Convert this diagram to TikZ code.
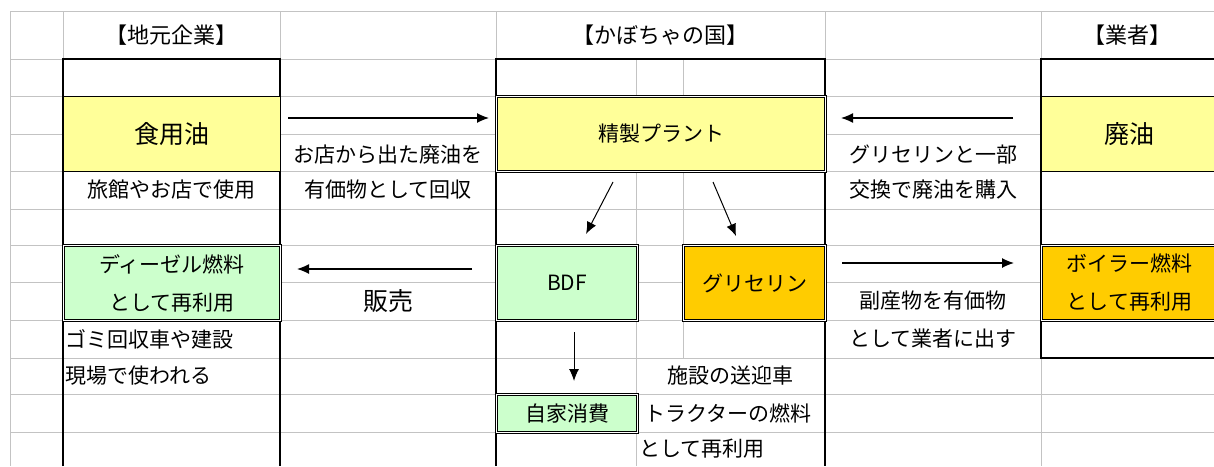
\documentclass[tikz,border=0pt]{standalone}
\usepackage{fontspec}
\setmainfont{Noto Sans CJK JP}
\usetikzlibrary{arrows.meta}

\definecolor{cellyellow}{RGB}{255,255,153}
\definecolor{cellgreen}{RGB}{204,255,204}
\definecolor{cellorange}{RGB}{255,204,0}
\definecolor{gridgray}{RGB}{195,195,195}

\tikzset{
  cellbox/.style={draw=black, line width=1pt, inner sep=0pt, anchor=north west, align=center,
    font=\fontsize{21}{38}\selectfont},
  dblbox/.style={cellbox, double, double distance=1.3pt},
  celltext/.style={inner sep=0pt, align=center, font=\fontsize{21}{38}\selectfont},
  bigtext/.style={font=\fontsize{25}{30}\selectfont},
  flow/.style={line width=1.3pt, -{Latex[length=12pt,width=10pt]}}
}

\begin{document}
\begin{tikzpicture}[x=1pt,y=-1pt]
  \useasboundingbox (0,0) rectangle (1214,466);
  % sheet grid
  \begin{scope}[draw=gridgray, line width=0.9pt]
    \foreach \y in {11,59,96,134,171,209,245,282,320,358,394,432}
      \draw (10,\y) -- (1214,\y);
    \foreach \x in {10,63,280,496,825,1041}
      \draw (\x,11) -- (\x,466);
    \draw (636,59) -- (636,466);
    \draw (683,59) -- (683,358);
  \end{scope}
  % column frames
  \begin{scope}[line width=1.5pt]
    \draw (63,466) -- (63,59) -- (280,59) -- (280,466);
    \draw (496,466) -- (496,59) -- (825,59) -- (825,466);
    \draw (1218,59) -- (1041,59) -- (1041,358) -- (1218,358);
  \end{scope}

  % headers
  \node[celltext, font=\fontsize{22}{26}\selectfont] (hdlocal) at (171.5,35) {【地元企業】};
  \node[celltext, font=\fontsize{22}{26}\selectfont] (hdkabo) at (660,35) {【かぼちゃの国】};
  \node[celltext, font=\fontsize{22}{26}\selectfont] (hdtrader) at (1127,35) {【業者】};

  % local companies
  \node[cellbox, bigtext, fill=cellyellow, minimum width=217pt, minimum height=75pt] (oil) at (63,96) {食用油};
  \node[celltext] (oiluse) at (171.5,190) {旅館やお店で使用};
  \node[dblbox, fill=cellgreen, minimum width=217pt, minimum height=75pt] (diesel) at (63,245) {ディーゼル燃料\\として再利用};
  \node[celltext, anchor=west] (truck1) at (65,339) {ゴミ回収車や建設};
  \node[celltext, anchor=west] (truck2) at (65,376) {現場で使われる};

  \node[celltext] (collect1) at (388,155) {お店から出た廃油を};
  \node[celltext] (collect2) at (388,190) {有価物として回収};
  \node[celltext, bigtext] (sale) at (388,301) {販売};

  % kabocha no kuni
  \node[dblbox, fill=cellyellow, minimum width=329pt, minimum height=75pt] (plant) at (496,96) {精製プラント};
  \node[dblbox, fill=cellgreen, minimum width=141pt, minimum height=75pt] (bdf) at (496,245) {BDF};
  \node[dblbox, fill=cellorange, minimum width=142pt, minimum height=75pt] (gly) at (683,245) {グリセリン};
  \node[dblbox, fill=cellgreen, minimum width=141pt, minimum height=38pt] (self) at (496,394) {自家消費};
  \node[celltext] (car1) at (730,376) {施設の送迎車};
  \node[celltext] (car2) at (728,413) {トラクターの燃料};
  \node[celltext, anchor=west] (car3) at (639,449) {として再利用};

  \node[celltext] (swap1) at (933,155) {グリセリンと一部};
  \node[celltext] (swap2) at (933,190) {交換で廃油を購入};
  \node[celltext] (byprod1) at (933,301) {副産物を有価物};
  \node[celltext] (byprod2) at (933,339) {として業者に出す};

  % traders
  \node[cellbox, bigtext, fill=cellyellow, minimum width=176pt, minimum height=75pt] (waste) at (1041,96) {廃油};
  \node[dblbox, fill=cellorange, minimum width=176pt, minimum height=75pt] (boiler) at (1041,245) {ボイラー燃料\\として再利用};

  % arrow ends
  \coordinate (c1a) at (288,118);
  \coordinate (c1b) at (489,118);
  \coordinate (c2a) at (472,269);
  \coordinate (c2b) at (297,269);
  \coordinate (c3a) at (1013,118);
  \coordinate (c3b) at (841,118);
  \coordinate (c4a) at (842,263);
  \coordinate (c4b) at (1014,263);
  \coordinate (c5a) at (613,182);
  \coordinate (c5b) at (586,234);
  \coordinate (c6a) at (713,182);
  \coordinate (c6b) at (736,236);
  \coordinate (c7a) at (574,332);
  \coordinate (c7b) at (574,381);

  \draw[flow] (c1a) -- (c1b);
  \draw[flow] (c2a) -- (c2b);
  \draw[flow] (c3a) -- (c3b);
  \draw[flow] (c4a) -- (c4b);
  \draw[flow, line width=1pt] (c5a) -- (c5b);
  \draw[flow, line width=1pt] (c6a) -- (c6b);
  \draw[flow, line width=1pt] (c7a) -- (c7b);
\end{tikzpicture}
\end{document}
